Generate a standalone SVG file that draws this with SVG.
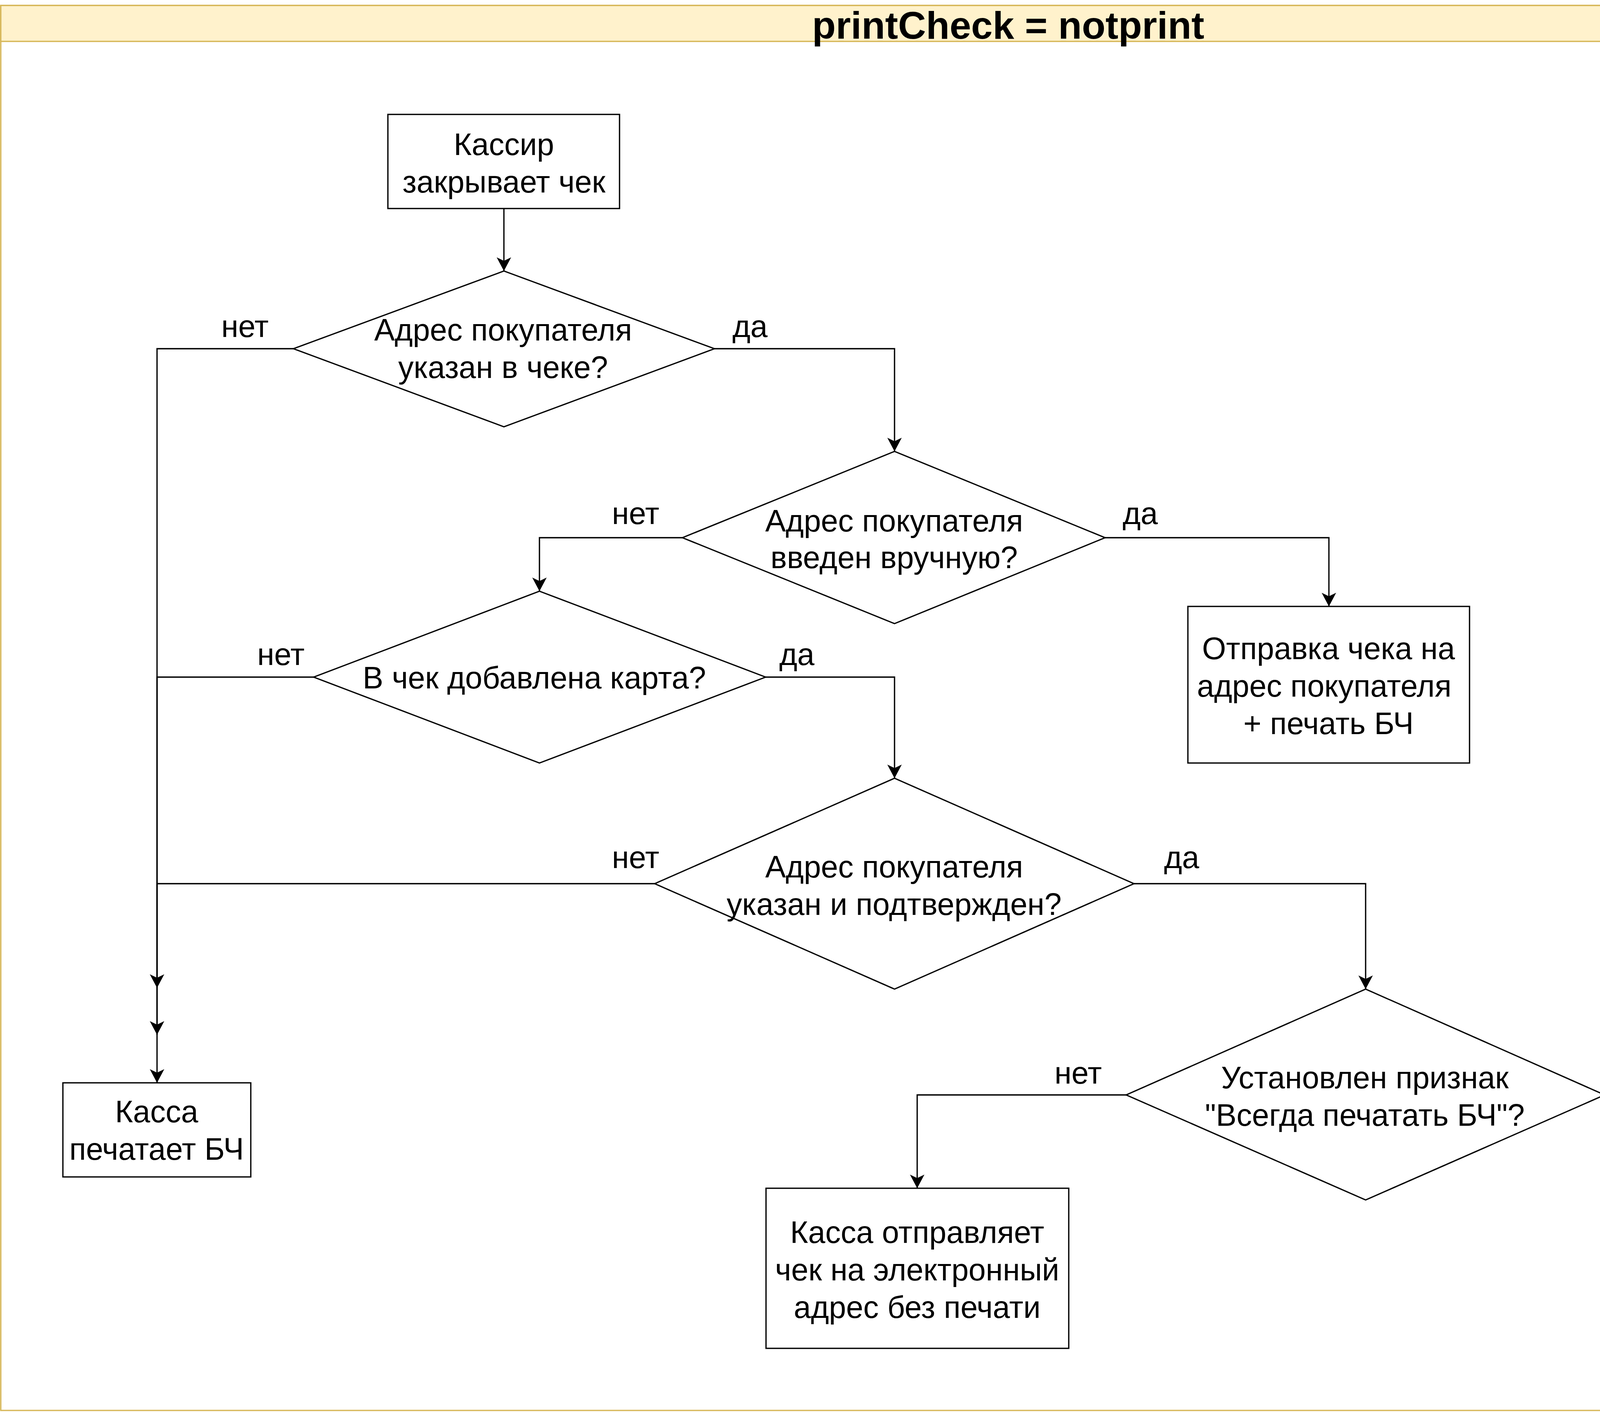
<svg xmlns="http://www.w3.org/2000/svg" width="5164" height="3616" viewBox="0 0 5164 3616">
<style>
.t{font-family:"Liberation Sans",Arial,Helvetica,sans-serif;font-size:79px;text-anchor:middle;fill:#000}
.title{font-family:"Liberation Sans",Arial,Helvetica,sans-serif;font-size:99px;font-weight:bold;text-anchor:middle;fill:#000}
.shape{fill:#fff;stroke:#000;stroke-width:3.3}
.edge{fill:none;stroke:#000;stroke-width:3.3;marker-end:url(#arr)}
</style>
<defs>
<marker id="arr" markerUnits="userSpaceOnUse" markerWidth="40" markerHeight="40" viewBox="-37 -20 40 40" refX="0" refY="0" orient="auto">
<path d="M0,0 L-35,-18.5 L-26,0 L-35,18.5 Z" fill="#000"/>
</marker>
</defs>
<rect x="0" y="0" width="5164" height="3616" fill="#fff"/>
<g id="container">
<rect x="2" y="14" width="5159" height="3598" fill="#fff" stroke="#d6b656" stroke-width="3.3"/>
<rect x="2" y="14" width="5159" height="92" fill="#fff2cc" stroke="#d6b656" stroke-width="3.3"/>
<text class="title" x="2581" y="99">printCheck = notprint</text>
</g>
<g id="connectors">
<path class="edge" d="M1290,534 V694"/>
<path class="edge" d="M1829,893 H2290 V1156"/>
<path class="edge" d="M751,893 H402 V2773"/>
<path class="edge" d="M1747,1377 H1381 V1514"/>
<path class="edge" d="M2829,1377 H3402 V1553"/>
<path class="edge" d="M803,1734 H402 V2650"/>
<path class="edge" d="M1960,1734 H2290 V1993"/>
<path class="edge" d="M1676,2263 H402 V2530"/>
<path class="edge" d="M2903,2263 H3496 V2533"/>
<path class="edge" d="M2883,2804 H2348 V3043"/>
<path class="edge" d="M4108,2804 H4600 V3053"/>
<text class="t" x="627" y="863">нет</text>
<text class="t" x="1920" y="863">да</text>
<text class="t" x="1627" y="1342">нет</text>
<text class="t" x="2919" y="1342">да</text>
<text class="t" x="719" y="1703">нет</text>
<text class="t" x="2040" y="1703">да</text>
<text class="t" x="1627" y="2223">нет</text>
<text class="t" x="3025" y="2223">да</text>
<text class="t" x="2760" y="2775">нет</text>
<text class="t" x="4227" y="2775">да</text>
</g>
<g id="start">
<rect class="shape" x="993" y="293" width="593" height="241"/>
<text class="t" x="1290" y="397">Кассир</text>
<text class="t" x="1290" y="493">закрывает чек</text>
</g>
<g id="d1">
<polygon class="shape" points="1290,694 1829,893 1290,1093 751,893"/>
<text class="t" x="1288" y="872">Адрес покупателя</text>
<text class="t" x="1288" y="968">указан в чеке?</text>
</g>
<g id="d2">
<polygon class="shape" points="2290,1156 2829,1377 2290,1597 1747,1377"/>
<text class="t" x="2289" y="1361">Адрес покупателя</text>
<text class="t" x="2289" y="1455">введен вручную?</text>
</g>
<g id="sendPrint">
<rect class="shape" x="3041" y="1553" width="721" height="401"/>
<text class="t" x="3401" y="1688">Отправка чека на</text>
<text class="t" x="3390" y="1784">адрес покупателя</text>
<text class="t" x="3401" y="1880">+ печать БЧ</text>
</g>
<g id="d3">
<polygon class="shape" points="1381,1514 1960,1734 1381,1954 803,1734"/>
<text class="t" x="1368" y="1763">В чек добавлена карта?</text>
</g>
<g id="d4">
<polygon class="shape" points="2290,1993 2903,2263 2290,2533 1676,2263"/>
<text class="t" x="2289" y="2247">Адрес покупателя</text>
<text class="t" x="2289" y="2343">указан и подтвержден?</text>
</g>
<g id="d5">
<polygon class="shape" points="3496,2533 4108,2804 3496,3073 2883,2804"/>
<text class="t" x="3494" y="2787">Установлен признак</text>
<text class="t" x="3494" y="2883">"Всегда печатать БЧ"?</text>
</g>
<g id="printOnly">
<rect class="shape" x="161" y="2773" width="481" height="241"/>
<text class="t" x="401" y="2874">Касса</text>
<text class="t" x="401" y="2970">печатает БЧ</text>
</g>
<g id="sendNoPrint">
<rect class="shape" x="1961" y="3043" width="775" height="410"/>
<text class="t" x="2348" y="3183">Касса отправляет</text>
<text class="t" x="2348" y="3279">чек на электронный</text>
<text class="t" x="2348" y="3375">адрес без печати</text>
</g>
<g id="printAndSend">
<rect class="shape" x="4202" y="3053" width="798" height="400"/>
<text class="t" x="4601" y="3187">Касса печатает БЧ</text>
<text class="t" x="4601" y="3283">+ отправляет чек на</text>
<text class="t" x="4601" y="3379">электронный адрес</text>
</g>
</svg>
